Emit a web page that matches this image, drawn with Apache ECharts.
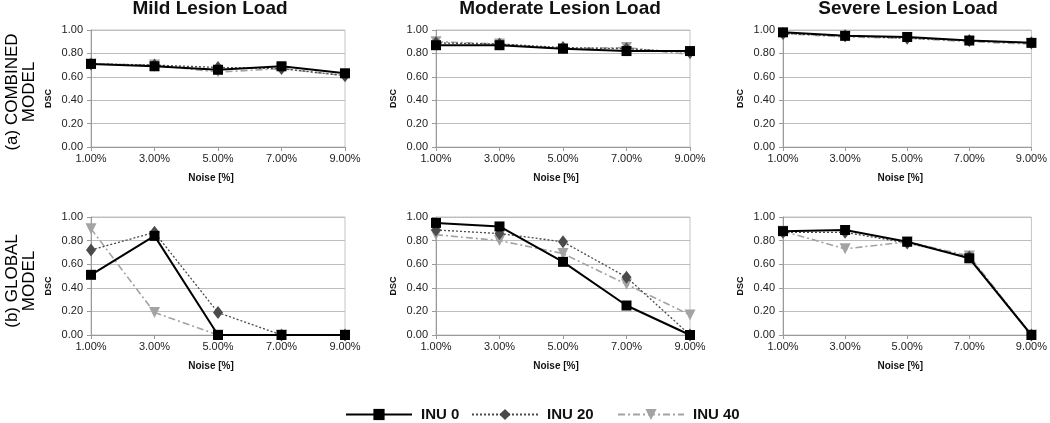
<!DOCTYPE html>
<html>
<head>
<meta charset="utf-8">
<script src="https://cdn.jsdelivr.net/npm/echarts@6/dist/echarts.min.js"></script>
<style>
html,body{margin:0;padding:0;background:#fff;}
#chart{width:1050px;height:423px;}
</style>
</head>
<body>
<div id="chart"></div>
<script>
// ---- data ----
const noiseLevels = ['1.00%', '3.00%', '5.00%', '7.00%', '9.00%'];
const seriesNames = ['INU 0', 'INU 20', 'INU 40'];
const columnTitles = ['Mild Lesion Load', 'Moderate Lesion Load', 'Severe Lesion Load'];

const combinedMild0 = [0.71, 0.69, 0.66, 0.69, 0.63];
const combinedMild20 = [0.71, 0.70, 0.68, 0.67, 0.61];
const combinedMild40 = [0.71, 0.70, 0.64, 0.67, 0.61];

const combinedModerate0 = [0.87, 0.87, 0.84, 0.82, 0.82];
const combinedModerate20 = [0.89, 0.88, 0.85, 0.84, 0.81];
const combinedModerate40 = [0.90, 0.88, 0.84, 0.85, 0.79];

const combinedSevere0 = [0.98, 0.95, 0.94, 0.91, 0.89];
const combinedSevere20 = [0.97, 0.95, 0.93, 0.91, 0.89];
const combinedSevere40 = [0.97, 0.94, 0.93, 0.90, 0.88];

const globalMild0 = [0.51, 0.84, 0.00, 0.00, 0.00];
const globalMild20 = [0.72, 0.87, 0.19, 0.00, 0.00];
const globalMild40 = [0.90, 0.19, 0.00, 0.00, 0.00];

const globalModerate0 = [0.95, 0.92, 0.62, 0.25, 0.00];
const globalModerate20 = [0.89, 0.86, 0.79, 0.49, 0.00];
const globalModerate40 = [0.85, 0.80, 0.69, 0.43, 0.17];

const globalSevere0 = [0.88, 0.89, 0.79, 0.65, 0.00];
const globalSevere20 = [0.87, 0.87, 0.78, 0.66, 0.00];
const globalSevere40 = [0.88, 0.73, 0.79, 0.67, 0.00];

// ---- layout / style ----
const FONT = "'Liberation Sans', Arial, sans-serif";
const panels = [
  { left: 91,  top: 30,  height: 117, data: [combinedMild0, combinedMild20, combinedMild40] },
  { left: 436, top: 30,  height: 117, data: [combinedModerate0, combinedModerate20, combinedModerate40] },
  { left: 783, top: 30,  height: 117, data: [combinedSevere0, combinedSevere20, combinedSevere40] },
  { left: 91,  top: 217, height: 118, data: [globalMild0, globalMild20, globalMild40] },
  { left: 436, top: 217, height: 118, data: [globalModerate0, globalModerate20, globalModerate40] },
  { left: 783, top: 217, height: 118, data: [globalSevere0, globalSevere20, globalSevere40] }
];
const PW = 254;

const styles = [
  { color: '#000000', symbol: 'rect', symbolSize: 10, symbolRotate: 0, line: { width: 2, type: 'solid' }, z: 5 },
  { color: '#4a4a4a', symbol: 'diamond', symbolSize: [10, 13], symbolRotate: 0, line: { width: 1.3, type: [2, 2] }, z: 4 },
  { color: '#a3a3a3', symbol: 'triangle', symbolSize: 11, symbolRotate: 180, line: { width: 1.6, type: [7, 3, 2, 3] }, z: 3 }
];

const grids = [], xAxes = [], yAxes = [], series = [];
panels.forEach((p, i) => {
  grids.push({ left: p.left, top: p.top, width: PW, height: p.height, show: true, borderColor: '#c4c4c4', borderWidth: 1, containLabel: false });
  xAxes.push({
    type: 'category', gridIndex: i, data: noiseLevels, boundaryGap: false,
    name: 'Noise [%]', nameLocation: 'middle', nameGap: 26,
    nameTextStyle: { fontFamily: FONT, fontSize: 10, fontWeight: 'bold', color: '#111', padding: [0, 14, 0, 0] },
    axisLine: { lineStyle: { color: '#9a9a9a', width: 1 } },
    axisTick: { show: true, alignWithLabel: true, length: 4, lineStyle: { color: '#9a9a9a' } },
    axisLabel: { fontFamily: FONT, fontSize: 11, color: '#222', margin: 6, interval: 0 },
    splitLine: { show: false }
  });
  yAxes.push({
    type: 'value', gridIndex: i, min: 0, max: 1, interval: 0.2,
    name: 'DSC', nameLocation: 'middle', nameRotate: 90, nameGap: 38,
    nameTextStyle: { fontFamily: FONT, fontSize: 9, fontWeight: 'bold', color: '#111', padding: [0, 20, 0, 0] },
    axisLine: { show: true, lineStyle: { color: '#9a9a9a', width: 1 } },
    axisTick: { show: true, length: 4, lineStyle: { color: '#9a9a9a' } },
    axisLabel: { fontFamily: FONT, fontSize: 11, color: '#222', margin: 8, formatter: v => v.toFixed(2) },
    splitLine: { show: true, lineStyle: { color: '#bdbdbd', width: 1 } }
  });
  p.data.forEach((d, k) => {
    const s = styles[k];
    series.push({
      type: 'line', name: seriesNames[k], xAxisIndex: i, yAxisIndex: i, data: d,
      symbol: s.symbol, symbolSize: s.symbolSize, symbolRotate: s.symbolRotate,
      showAllSymbol: true, z: s.z, animation: false,
      itemStyle: { color: s.color },
      lineStyle: { color: s.color, width: s.line.width, type: s.line.type }
    });
  });
});

const legendLefts = [340, 466, 612];
const legends = seriesNames.map((n, k) => ({
  data: [n], left: legendLefts[k], top: 402, itemWidth: 66, itemHeight: 14, itemGap: 0,
  textStyle: { fontFamily: FONT, fontSize: 15, fontWeight: 'bold', color: '#111', padding: [0, 0, 0, 4] },
  selectedMode: false
}));

const graphics = [];
const titleCenters = [210, 560, 908];
columnTitles.forEach((t, k) => {
  graphics.push({ type: 'text', x: titleCenters[k], y: 9, silent: true,
    style: { text: t, font: "bold 19px " + FONT, fill: '#111', align: 'center', verticalAlign: 'middle' } });
});
const rowLabels = [
  { l1: '(a) COMBINED', l2: 'MODEL', cy: 92 },
  { l1: '(b) GLOBAL', l2: 'MODEL', cy: 281 }
];
rowLabels.forEach(r => {
  graphics.push({ type: 'text', x: 12, y: r.cy, rotation: Math.PI / 2, silent: true,
    style: { text: r.l1, font: "17px " + FONT, fill: '#000', align: 'center', verticalAlign: 'middle' } });
  graphics.push({ type: 'text', x: 29, y: r.cy, rotation: Math.PI / 2, silent: true,
    style: { text: r.l2, font: "17px " + FONT, fill: '#000', align: 'center', verticalAlign: 'middle' } });
});

const chart = echarts.init(document.getElementById('chart'), null, { renderer: 'canvas' });
chart.setOption({
  backgroundColor: '#ffffff',
  animation: false,
  grid: grids,
  xAxis: xAxes,
  yAxis: yAxes,
  series: series,
  legend: legends,
  graphic: graphics
});
</script>
</body>
</html>
